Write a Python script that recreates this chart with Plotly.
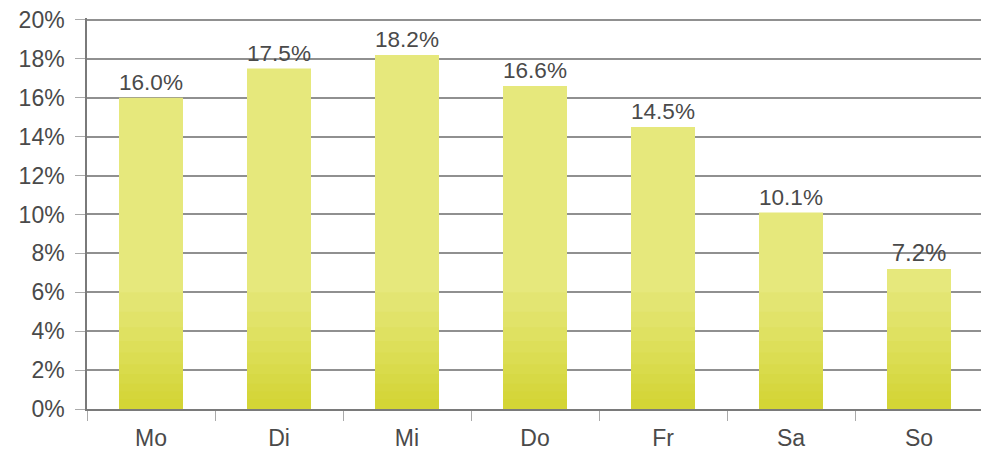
import plotly.graph_objects as go

days = ["Mo", "Di", "Mi", "Do", "Fr", "Sa", "So"]
shares = [16.0, 17.5, 18.2, 16.6, 14.5, 10.1, 7.2]
y_ticks = [0, 2, 4, 6, 8, 10, 12, 14, 16, 18, 20]
y_tick_labels = [f"{t}%" for t in y_ticks]
value_labels = [f"{v:.1f}%" for v in shares]

FONT = "Liberation Sans"
TXT = "#4a4a4a"

fig = go.Figure()
fig.add_trace(go.Bar(
    x=days, y=shares,
    marker=dict(color="#e6e87c", line=dict(width=0)),
    width=0.5,
    text=value_labels,
    textposition="outside",
    textfont=dict(family=FONT, size=24, color=TXT),
    cliponaxis=False,
    hoverinfo="skip",
))
# decorative darker overlays near the bar bottoms to mimic the gradient fill
for h in [6, 5, 4.2, 3.5, 2.9, 2.3, 1.8, 1.3, 0.9, 0.5]:
    fig.add_trace(go.Bar(
        x=days, y=[min(v, h) for v in shares],
        marker=dict(color="rgba(208,208,0,0.075)", line=dict(width=0)),
        width=0.5, hoverinfo="skip",
    ))

# page body has an 8px default margin, so the figure is sized to fit the window
fig.update_layout(
    width=981, height=445,
    margin=dict(l=79, r=6, t=9.5, b=44),
    paper_bgcolor="white", plot_bgcolor="white",
    barmode="overlay", showlegend=False,
    font=dict(family=FONT, size=23, color=TXT),
)
fig.update_yaxes(
    range=[0, 20.1], tickvals=y_ticks, ticktext=y_tick_labels,
    showgrid=True, gridcolor="#909090", gridwidth=1.5,
    showline=True, linecolor="#7a7a7a", linewidth=1.5,
    ticks="outside", ticklen=10, tickcolor="#aaaaaa", tickwidth=1.2,
    ticklabelstandoff=6, automargin=False, ticklabeloverflow="allow",
    zeroline=False, tickfont=dict(family=FONT, size=23, color=TXT),
)
fig.update_xaxes(
    showline=True, linecolor="#7a7a7a", linewidth=1.5,
    ticks="outside", ticklen=10, tickcolor="#aaaaaa", tickwidth=1.2,
    tickson="boundaries", automargin=False, ticklabelstandoff=8,
    ticklabeloverflow="allow",
    tickfont=dict(family=FONT, size=23, color=TXT),
)
fig.write_html("out.html")
